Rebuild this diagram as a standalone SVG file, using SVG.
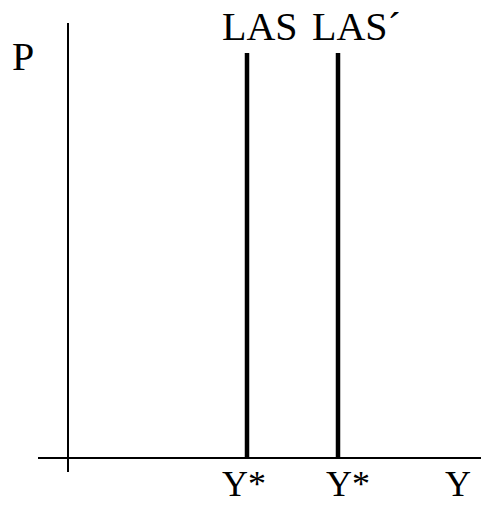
<svg xmlns="http://www.w3.org/2000/svg" width="481" height="505" viewBox="0 0 481 505">
<style>
text{font-family:"Liberation Serif","Times New Roman",serif;fill:#000}
.ax{stroke:#000;stroke-width:2;fill:none}
.curve{stroke:#000;stroke-width:4.5;fill:none}
</style>
<rect width="481" height="505" fill="#fff"/>
<g id="connectors">
<line class="ax" x1="68" y1="23" x2="68" y2="472"/>
<line class="ax" x1="38" y1="458" x2="481" y2="458"/>
<line class="curve" x1="247" y1="53" x2="247" y2="458"/>
<line class="curve" x1="338" y1="53" x2="338" y2="458"/>
</g>
<g id="label-P"><text x="12" y="70" font-size="40">P</text></g>
<g id="label-LAS"><text x="222" y="40" font-size="40">LAS</text></g>
<g id="label-LAS2"><text x="312" y="40" font-size="40">LAS´</text></g>
<g id="label-Y1"><text x="222" y="496" font-size="36">Y*</text></g>
<g id="label-Y2"><text x="326" y="496" font-size="36">Y*</text></g>
<g id="label-Y"><text x="445" y="496" font-size="36">Y</text></g>
</svg>
